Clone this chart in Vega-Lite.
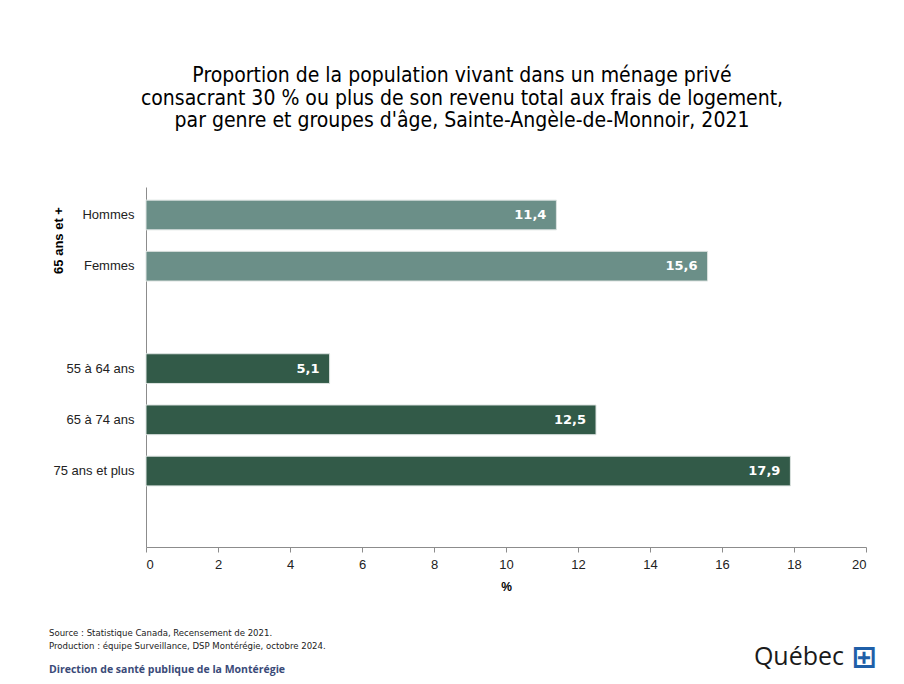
{
  "$schema": "https://vega.github.io/schema/vega-lite/v6.json",
  "background": "white",
  "padding": {"left": 49, "top": 65, "right": 0, "bottom": 0},
  "config": {
    "locale": {"number": {"decimal": ",", "thousands": " ", "grouping": [3], "currency": ["", " $"]}},
    "view": {"stroke": null},
    "font": "Liberation Sans"
  },
  "title": {
    "text": ["Proportion de la population vivant dans un ménage privé", "consacrant 30 % ou plus de son revenu total aux frais de logement,", "par genre et groupes d'âge, Sainte-Angèle-de-Monnoir, 2021"],
    "font": "DejaVu Sans Condensed, Roboto",
    "fontSize": 21,
    "fontWeight": "normal",
    "color": "#000000",
    "lineHeight": 22.5,
    "anchor": "middle",
    "frame": "group",
    "dx": -44,
    "offset": 56
  },
  "spacing": 36,
  "datasets": {
    "bars": [
      {"cat": "Hommes", "grp": "65+", "value": 11.4},
      {"cat": "Femmes", "grp": "65+", "value": 15.6},
      {"cat": "55 à 64 ans", "grp": "age", "value": 5.1},
      {"cat": "65 à 74 ans", "grp": "age", "value": 12.5},
      {"cat": "75 ans et plus", "grp": "age", "value": 17.9}
    ],
    "footer": [
      {"source": "Source : Statistique Canada, Recensement de 2021.\nProduction : équipe Surveillance,  DSP Montérégie, octobre 2024.", "org": "Direction de santé publique de la Montérégie", "logo": "Québec", "flag": "⊞"}
    ]
  },
  "vconcat": [
    {
      "width": 720,
      "height": 360,
      "data": {"name": "bars"},
      "encoding": {
        "y": {
          "field": "cat",
          "type": "nominal",
          "scale": {"domain": ["Hommes", "Femmes", "_1", "55 à 64 ans", "65 à 74 ans", "75 ans et plus", "_2"], "paddingInner": 0.42, "paddingOuter": 0.225, "align": 0.57},
          "axis": {
            "title": "65 ans et +",
            "titleFontWeight": "bold",
            "titleFontSize": 13,
            "titleColor": "#000000",
            "titleAngle": -90,
            "titleAlign": "center",
            "titleBaseline": "middle",
            "titleX": -88,
            "titleY": 53,
            "labelExpr": "indexof(datum.label, '_') == 0 ? '' : datum.label",
            "labelFontSize": 13,
            "labelColor": "#222222",
            "labelPadding": 12,
            "ticks": false,
            "domainColor": "#8c8c8c",
            "grid": false
          }
        },
        "x": {
          "field": "value",
          "type": "quantitative",
          "scale": {"domain": [0, 20], "nice": false},
          "axis": {
            "title": "%",
            "titleFontWeight": "bold",
            "titleFontSize": 12,
            "titleColor": "#000000",
            "titlePadding": 10,
            "values": [0, 2, 4, 6, 8, 10, 12, 14, 16, 18, 20],
            "labelFontSize": 13,
            "labelColor": "#222222",
            "labelPadding": 6,
            "tickSize": 5,
            "tickColor": "#8c8c8c",
            "domainColor": "#8c8c8c",
            "grid": false
          }
        }
      },
      "layer": [
        {
          "mark": {"type": "bar", "stroke": "#dde3e1", "strokeWidth": 1},
          "encoding": {
            "color": {"field": "grp", "type": "nominal", "scale": {"domain": ["65+", "age"], "range": ["#6B8F88", "#325A48"]}, "legend": null}
          }
        },
        {
          "mark": {"type": "text", "align": "right", "baseline": "middle", "dx": -10, "color": "white", "fontWeight": "bold", "fontSize": 13, "font": "DejaVu Sans"},
          "encoding": {
            "text": {"field": "value", "type": "quantitative", "format": ".1f"}
          }
        }
      ]
    },
    {
      "width": 720,
      "height": 48,
      "data": {"name": "footer"},
      "layer": [
        {
          "mark": {"type": "text", "align": "left", "baseline": "top", "dx": -97, "fontSize": 9.5, "font": "DejaVu Sans Condensed, Roboto", "color": "#222222", "lineBreak": "\n", "lineHeight": 12.5},
          "encoding": {
            "text": {"field": "source"},
            "x": {"datum": 0, "type": "quantitative", "scale": {"domain": [0, 1]}, "axis": null},
            "y": {"datum": 1, "type": "quantitative", "scale": {"domain": [0, 1]}, "axis": null}
          }
        },
        {
          "mark": {"type": "text", "align": "left", "baseline": "bottom", "dx": -97, "dy": -1, "fontSize": 10.5, "fontWeight": "bold", "font": "Open Sans", "color": "#3a4a78"},
          "encoding": {
            "text": {"field": "org"},
            "x": {"datum": 0, "type": "quantitative", "scale": {"domain": [0, 1]}, "axis": null},
            "y": {"datum": 0, "type": "quantitative", "scale": {"domain": [0, 1]}, "axis": null}
          }
        },
        {
          "mark": {"type": "text", "align": "right", "baseline": "middle", "dx": -22, "dy": 5, "fontSize": 25, "font": "Open Sans", "color": "#1a1a1a"},
          "encoding": {
            "text": {"field": "logo"},
            "x": {"datum": 1, "type": "quantitative", "scale": {"domain": [0, 1]}, "axis": null},
            "y": {"datum": 0.5, "type": "quantitative", "scale": {"domain": [0, 1]}, "axis": null}
          }
        },
        {
          "mark": {"type": "text", "align": "right", "baseline": "middle", "dx": 11, "dy": 6, "fontSize": 30, "fontWeight": "bold", "font": "DejaVu Sans", "color": "#1f5fa8"},
          "encoding": {
            "text": {"field": "flag"},
            "x": {"datum": 1, "type": "quantitative", "scale": {"domain": [0, 1]}, "axis": null},
            "y": {"datum": 0.5, "type": "quantitative", "scale": {"domain": [0, 1]}, "axis": null}
          }
        }
      ]
    }
  ]
}
